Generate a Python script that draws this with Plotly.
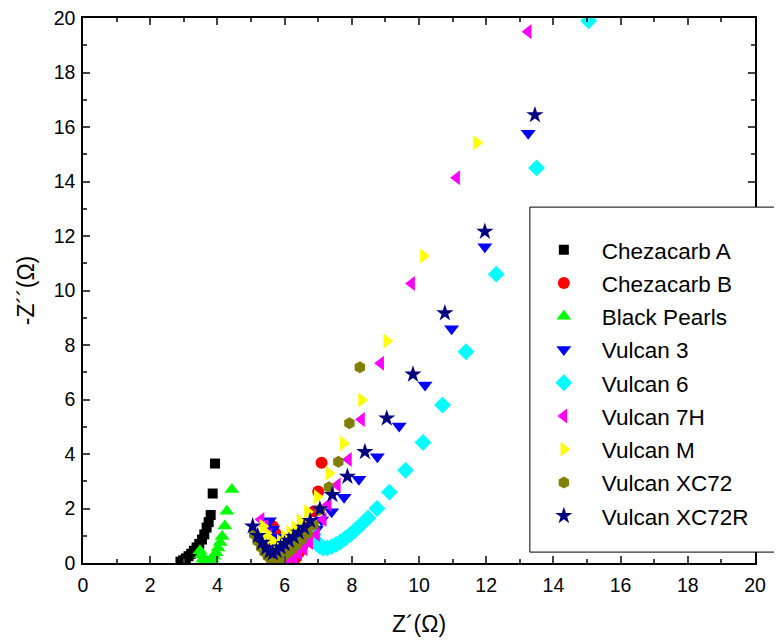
import plotly.graph_objects as go

# Nyquist data, Z' and -Z'' in ohm
chez_a_x = [2.9, 2.98, 3.06, 3.14, 3.22, 3.30, 3.38, 3.46, 3.54, 3.61, 3.68, 3.74, 3.80, 3.86, 3.93]
chez_a_y = [0.05, 0.1, 0.17, 0.25, 0.34, 0.45, 0.57, 0.7, 0.86, 1.05, 1.3, 1.5, 1.76, 2.55, 3.65]

chez_b_x = [5.65, 5.72, 5.8, 5.88, 5.96, 6.05, 6.14, 6.24, 6.34, 6.44, 6.54, 6.64, 6.75, 6.88, 7.0, 7.1]
chez_b_y = [1.35, 1.1, 0.85, 0.6, 0.38, 0.2, 0.08, 0.08, 0.2, 0.4, 0.65, 0.95, 1.35, 1.9, 2.62, 3.68]

bp_x = [3.48, 3.52, 3.57, 3.63, 3.70, 3.77, 3.84, 3.90, 3.96, 4.02, 4.08, 4.14, 4.22, 4.28, 4.43]
bp_y = [0.45, 0.3, 0.15, 0.07, 0.05, 0.08, 0.15, 0.25, 0.38, 0.55, 0.75, 0.97, 1.36, 1.9, 2.7]

v3_x = [5.55, 5.65, 5.75, 5.85, 5.95, 6.05, 6.17, 6.3, 6.45, 6.6, 6.78, 6.95, 7.1, 7.4, 7.77,
        8.21, 8.76, 9.41, 10.18, 10.97, 11.96, 13.25]
v3_y = [1.55, 1.25, 0.95, 0.7, 0.5, 0.4, 0.42, 0.5, 0.62, 0.78, 0.98, 1.25, 1.58, 1.88, 2.41,
        3.07, 3.9, 5.03, 6.53, 8.6, 11.61, 15.77]

v6_x = [6.85, 6.9, 6.97, 7.05, 7.15, 7.27, 7.4, 7.53, 7.66, 7.8, 7.95, 8.1, 8.27, 8.48, 8.75,
        9.12, 9.6, 10.12, 10.7, 11.4, 12.3, 13.5, 15.05]
v6_y = [1.05, 0.85, 0.7, 0.6, 0.55, 0.55, 0.6, 0.68, 0.78, 0.9, 1.04, 1.2, 1.4, 1.65, 2.0,
        2.6, 3.4, 4.42, 5.8, 7.75, 10.6, 14.5, 19.9]

v7h_x = [5.3, 5.42, 5.52, 5.62, 5.72, 5.82, 5.92, 6.02, 6.14, 6.28, 6.42, 6.58, 6.75, 6.95, 7.15,
         7.3, 7.57, 7.9, 8.29, 8.86, 9.78, 11.12, 13.25]
v7h_y = [1.6, 1.35, 1.0, 0.7, 0.45, 0.25, 0.1, 0.03, 0.08, 0.2, 0.35, 0.52, 0.75, 1.05, 1.6,
         2.15, 2.86, 3.8, 5.27, 7.33, 10.26, 14.14, 19.5]

vm_x = [5.35, 5.45, 5.55, 5.65, 5.75, 5.87, 6.0, 6.15, 6.3, 6.46, 6.68, 6.97, 7.32, 7.75, 8.29,
        9.04, 10.13, 11.72]
vm_y = [1.35, 1.1, 0.9, 0.75, 0.7, 0.8, 0.95, 1.12, 1.3, 1.55, 1.88, 2.43, 3.29, 4.39, 5.98,
        8.15, 11.27, 15.42]

xc72_x = [5.1, 5.2, 5.3, 5.4, 5.5, 5.6, 5.7, 5.8, 5.92, 6.05, 6.2, 6.35, 6.5, 6.68, 6.86,
          7.05, 7.32, 7.6, 7.93, 8.24]
xc72_y = [1.05, 0.8, 0.58, 0.4, 0.25, 0.13, 0.06, 0.08, 0.2, 0.33, 0.48, 0.65, 0.85, 1.08, 1.4,
          1.95, 2.78, 3.72, 5.13, 7.18]

xc72r_x = [5.05, 5.2, 5.33, 5.45, 5.55, 5.65, 5.76, 5.88, 6.0, 6.13, 6.27, 6.42, 6.58, 6.76, 7.05,
           7.42, 7.87, 8.39, 9.04, 9.82, 10.77, 11.96, 13.45]
xc72r_y = [1.35, 1.0, 0.75, 0.55, 0.42, 0.36, 0.45, 0.58, 0.7, 0.82, 0.96, 1.12, 1.3, 1.55, 1.98,
           2.5, 3.17, 4.08, 5.31, 6.92, 9.17, 12.16, 16.44]

series = [
    ("Chezacarb A", chez_a_x, chez_a_y, "square", "#000000", 10),
    ("Chezacarb B", chez_b_x, chez_b_y, "circle", "#FF0000", 12),
    ("Black Pearls", bp_x, bp_y, "triangle-up", "#00FF00", 13),
    ("Vulcan 3", v3_x, v3_y, "triangle-down", "#0000FF", 13),
    ("Vulcan 6", v6_x, v6_y, "diamond", "#00FFFF", 13),
    ("Vulcan 7H", v7h_x, v7h_y, "triangle-left", "#FF00FF", 13),
    ("Vulcan M", vm_x, vm_y, "triangle-right", "#FFFF00", 13),
    ("Vulcan XC72", xc72_x, xc72_y, "hexagon", "#808000", 12),
    ("Vulcan XC72R", xc72r_x, xc72r_y, "star", "#000080", 13),
]

fig = go.Figure()
for name, xs, ys, sym, col, sz in series:
    fig.add_trace(go.Scatter(x=xs, y=ys, mode="markers", name=name, legendgroup=name,
                             marker=dict(symbol=sym, color=col, size=sz, line_width=0)))

font = "Arial, Liberation Sans, sans-serif"
axis = dict(range=[0, 20], dtick=2, ticks="inside", ticklen=7, tickwidth=1.5,
            minor=dict(dtick=1, ticks="inside", ticklen=4, tickwidth=1.5),
            showline=True, linecolor="black", linewidth=1.5, mirror="ticks",
            showgrid=False, zeroline=False, automargin=False, ticklabeloverflow="allow",
            tickfont=dict(family=font, size=19.5, color="black"))

# page body adds 8px, so the figure is 8px smaller than the window
fig.update_layout(
    width=774, height=634,
    margin=dict(l=75, r=27, t=10, b=79),
    plot_bgcolor="white", paper_bgcolor="white",
    xaxis=dict(axis, ticklabelstandoff=4,
               title=dict(text="Z\u00b4(\u03a9)", font=dict(family=font, size=23, color="black"), standoff=21)),
    yaxis=dict(axis, ticklabelstandoff=2,
               title=dict(text="-Z\u00b4\u00b4(\u03a9)", font=dict(family=font, size=23, color="black"), standoff=13)),
    legend=dict(x=0.659, y=0.6135, xanchor="left", yanchor="top",
                bgcolor="rgba(0,0,0,0)", borderwidth=0, itemwidth=66,
                font=dict(family=font, size=22.5, color="black"),
                traceorder="grouped", tracegroupgap=1),
    # legend frame, runs past the right axis like in the original
    shapes=[dict(type="rect", xref="paper", yref="paper", x0=0.665, x1=1.039, y0=0.02, y1=0.653,
                 fillcolor="white", line=dict(color="black", width=1), layer="above")],
)

fig.write_html("out.html")
